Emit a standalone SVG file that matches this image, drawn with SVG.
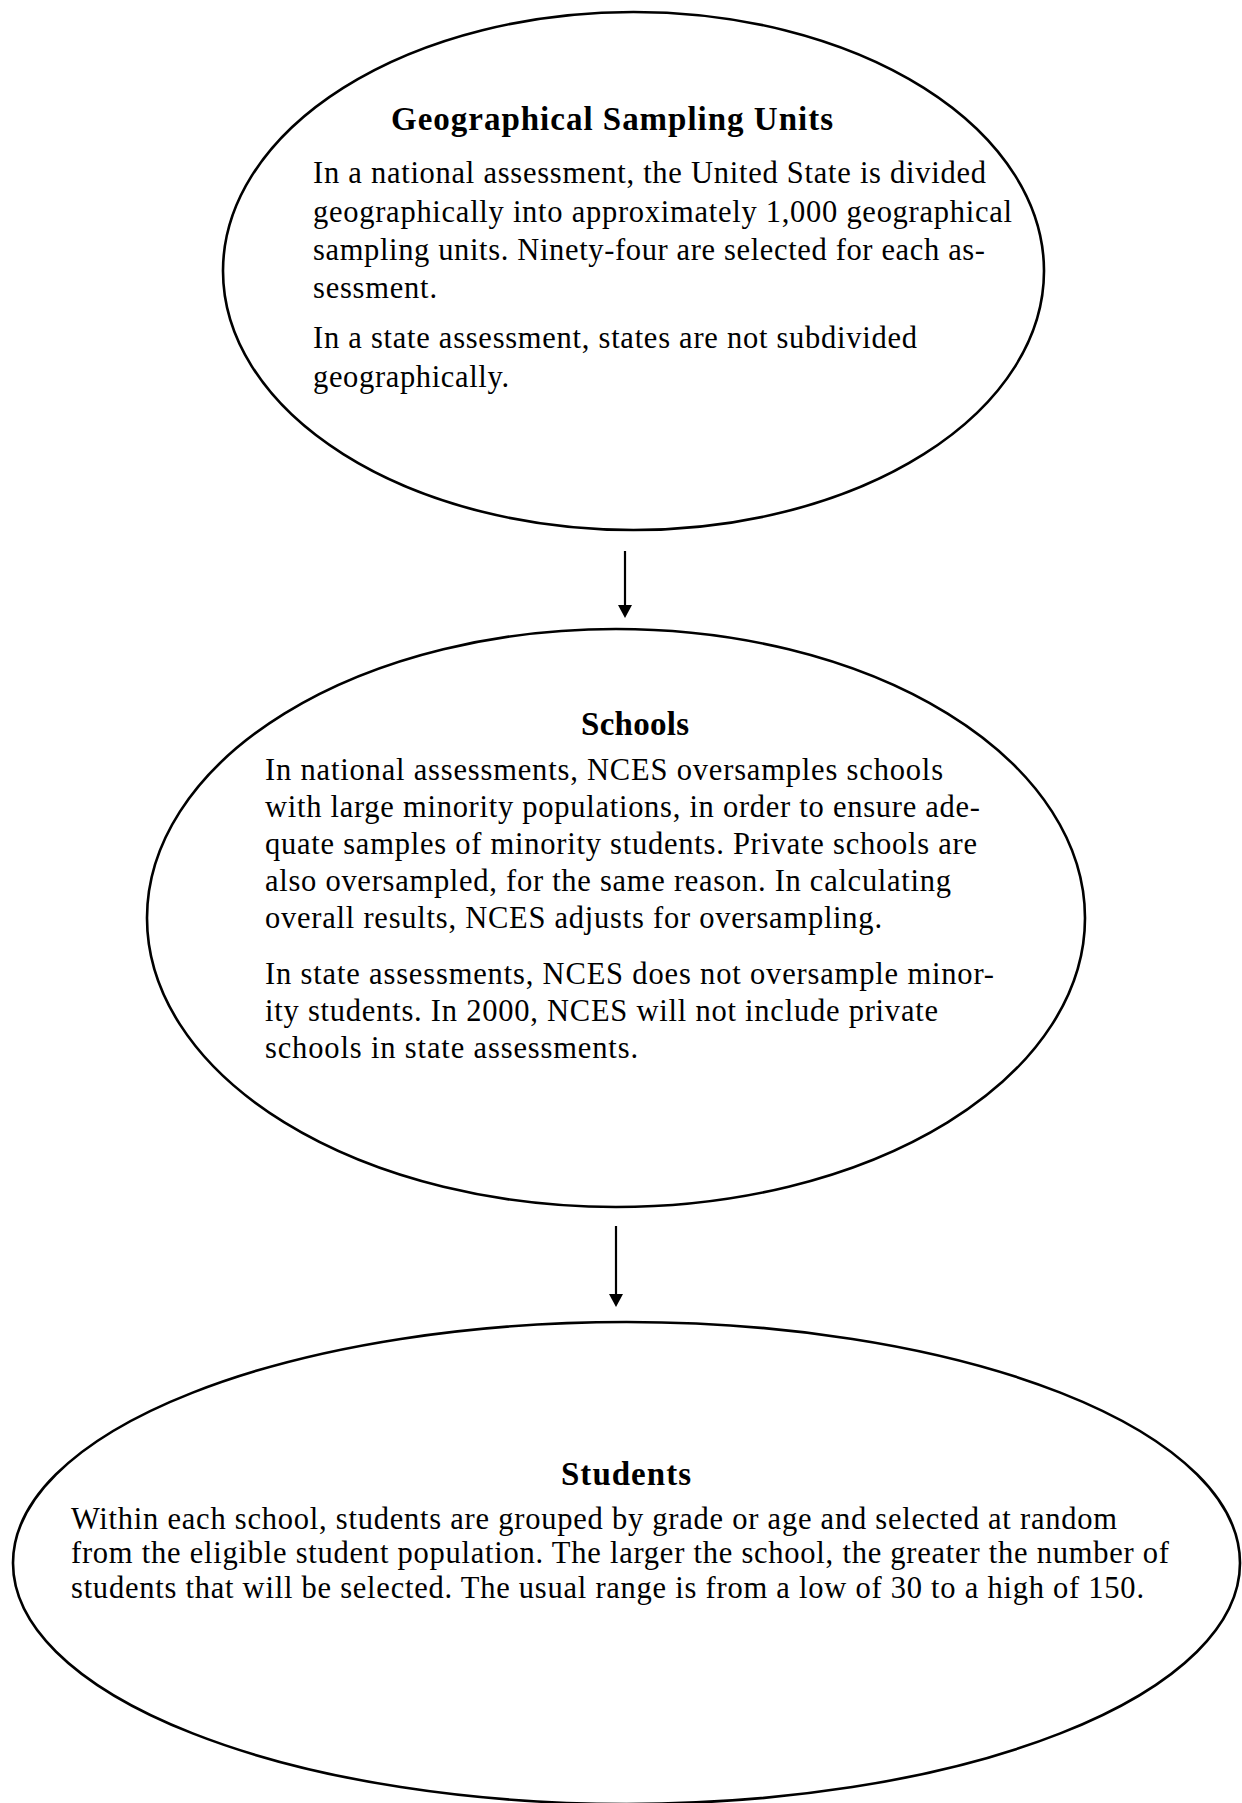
<svg xmlns="http://www.w3.org/2000/svg" width="1242" height="1803" viewBox="0 0 1242 1803">
  <style>
    .shape { fill: none; stroke: #000; stroke-width: 2.6; }
    .title { font-family: "Liberation Serif", "Times New Roman", serif; font-weight: bold; font-size: 33px; fill: #000; }
    .body { font-family: "Liberation Serif", "Times New Roman", serif; font-size: 30.5px; fill: #000; }
    .conn { stroke: #000; stroke-width: 2.2; fill: none; }
  </style>
  <defs>
    <marker id="arrow" markerUnits="userSpaceOnUse" markerWidth="14" markerHeight="14" refX="0" refY="7" orient="auto">
      <path d="M0,0 L13,7 L0,14 z" fill="#000"/>
    </marker>
  </defs>
  <rect x="0" y="0" width="1242" height="1803" fill="#fff"/>

  <g id="node-geographical">
    <ellipse class="shape" cx="633.5" cy="271" rx="410.5" ry="259"/>
    <text class="title" x="391" y="130" textLength="442">Geographical Sampling Units</text>
    <text class="body" x="313" y="183" textLength="673">In a national assessment, the United State is divided</text>
    <text class="body" x="313" y="222" textLength="699">geographically into approximately 1,000 geographical</text>
    <text class="body" x="313" y="260" textLength="672">sampling units. Ninety-four are selected for each as-</text>
    <text class="body" x="313" y="298" textLength="124">sessment.</text>
    <text class="body" x="313" y="348" textLength="604">In a state assessment, states are not subdivided</text>
    <text class="body" x="313" y="387" textLength="196">geographically.</text>
  </g>

  <g id="node-schools">
    <ellipse class="shape" cx="616" cy="918" rx="469" ry="289"/>
    <text class="title" x="581" y="735" textLength="108">Schools</text>
    <text class="body" x="265" y="780" textLength="678">In national assessments, NCES oversamples schools</text>
    <text class="body" x="265" y="817" textLength="715">with large minority populations, in order to ensure ade-</text>
    <text class="body" x="265" y="854" textLength="712">quate samples of minority students. Private schools are</text>
    <text class="body" x="265" y="891" textLength="686">also oversampled, for the same reason. In calculating</text>
    <text class="body" x="265" y="928" textLength="617">overall results, NCES adjusts for oversampling.</text>
    <text class="body" x="265" y="984" textLength="729">In state assessments, NCES does not oversample minor-</text>
    <text class="body" x="265" y="1021" textLength="673">ity students. In 2000, NCES will not include private</text>
    <text class="body" x="265" y="1058" textLength="373">schools in state assessments.</text>
  </g>

  <g id="node-students">
    <ellipse class="shape" cx="626.5" cy="1563" rx="613.5" ry="241"/>
    <text class="title" x="561" y="1485" textLength="130">Students</text>
    <text class="body" x="71" y="1529" textLength="1046">Within each school, students are grouped by grade or age and selected at random</text>
    <text class="body" x="71" y="1563" textLength="1098">from the eligible student population. The larger the school, the greater the number of</text>
    <text class="body" x="71" y="1598" textLength="1073">students that will be selected. The usual range is from a low of 30 to a high of 150.</text>
  </g>

  <g id="connectors">
    <line class="conn" x1="625" y1="551" x2="625" y2="605" marker-end="url(#arrow)"/>
    <line class="conn" x1="616" y1="1226" x2="616" y2="1294" marker-end="url(#arrow)"/>
  </g>
</svg>
